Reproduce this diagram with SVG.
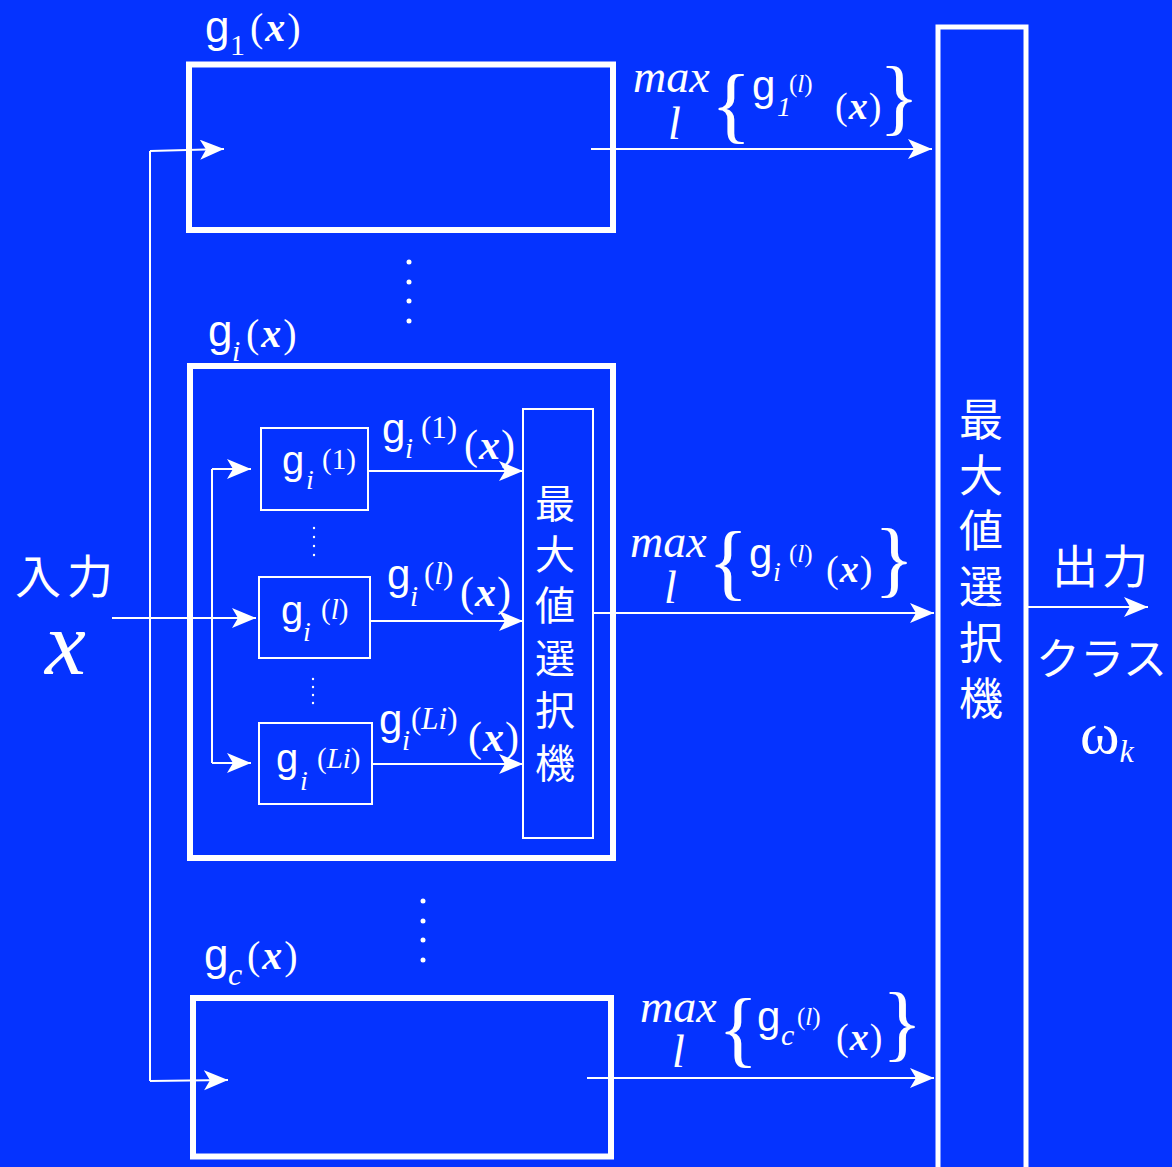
<svg xmlns="http://www.w3.org/2000/svg" width="1172" height="1167" viewBox="0 0 1172 1167">
<defs>
<marker id="ah" markerUnits="userSpaceOnUse" markerWidth="26" markerHeight="22" refX="24" refY="10" orient="auto">
<path d="M0,0 L24,10 L0,20 L6,10 Z" fill="#fff"/>
</marker>
<style>
.bg{fill:#0533FF}
.big{fill:none;stroke:#fff;stroke-width:6}
.sel{fill:none;stroke:#fff;stroke-width:5}
.sm{fill:none;stroke:#fff;stroke-width:2}
.c{fill:none;stroke:#fff;stroke-width:2}
.a{marker-end:url(#ah)}
text{fill:#fff}
.g{font-family:"Liberation Sans",Arial,sans-serif}
.s{font-family:"Liberation Serif","Times New Roman",serif}
.si{font-family:"Liberation Serif","Times New Roman",serif;font-style:italic}
.bx{font-family:"Liberation Serif","Times New Roman",serif;font-style:italic;font-weight:bold}
.j{font-family:"Noto Sans CJK JP","Noto Sans CJK SC",sans-serif}
.d{fill:#fff}
</style>
</defs>
<rect class="bg" x="0" y="0" width="1172" height="1167"/>

<g id="connectors">
<path class="c" d="M150,151 L150,1081"/>
<path class="c a" d="M150,151 L224,149"/>
<path class="c a" d="M150,1081 L228,1080"/>
<path class="c a" d="M591,149 L932,149"/>
<path class="c a" d="M593,613 L934,613"/>
<path class="c a" d="M587,1078 L934,1078"/>
<path class="c a" d="M112,618 L256,618"/>
<path class="c" d="M212,469 L212,763"/>
<path class="c a" d="M212,469 L251,469"/>
<path class="c a" d="M212,763 L251,763"/>
<path class="c a" d="M368,471 L523,471"/>
<path class="c a" d="M370,621 L523,621"/>
<path class="c a" d="M372,764 L523,764"/>
<path class="c a" d="M1026,607 L1148,607"/>
</g>

<g id="input">
<text class="j" x="15" y="593" font-size="46" letter-spacing="6">入力</text>
<text class="si" x="45" y="674" font-size="92">x</text>
</g>

<g id="g1">
<rect class="big" x="189" y="64.5" width="424" height="165.5"/>
<text x="205" y="42"><tspan class="g" font-size="44">g</tspan><tspan class="s" font-size="30" x="230" y="55">1</tspan><tspan class="s" font-size="40" x="250" y="41" letter-spacing="2">(</tspan><tspan class="bx" font-size="40" letter-spacing="2">x</tspan><tspan class="s" font-size="40">)</tspan></text>
</g>

<g id="dots-top">
<circle class="d" cx="409" cy="262" r="2.5"/>
<circle class="d" cx="409" cy="282" r="2.5"/>
<circle class="d" cx="409" cy="301" r="2.5"/>
<circle class="d" cx="409" cy="321" r="2.5"/>
</g>

<g id="gi">
<rect class="big" x="190" y="366" width="423" height="492"/>
<text x="208" y="346"><tspan class="g" font-size="44">g</tspan><tspan class="si" font-size="30" x="232" y="361">i</tspan><tspan class="s" font-size="40" x="246" y="347" letter-spacing="2">(</tspan><tspan class="bx" font-size="40" letter-spacing="2">x</tspan><tspan class="s" font-size="40">)</tspan></text>
</g>

<g id="gi1">
<rect class="sm" x="261" y="428" width="107" height="82"/>
<text x="282" y="474"><tspan class="g" font-size="40">g</tspan><tspan class="si" font-size="28" x="306" y="489">i</tspan><tspan class="s" font-size="29" x="322" y="469">(1)</tspan></text>
</g>
<g id="gil">
<rect class="sm" x="259" y="577" width="111" height="81"/>
<text x="281" y="624"><tspan class="g" font-size="40">g</tspan><tspan class="si" font-size="28" x="303" y="641">i</tspan><tspan class="s" font-size="29" x="321" y="619">(<tspan class="si">l</tspan>)</tspan></text>
</g>
<g id="giLi">
<rect class="sm" x="259" y="723" width="113" height="81"/>
<text x="276" y="772"><tspan class="g" font-size="40">g</tspan><tspan class="si" font-size="28" x="300" y="790">i</tspan><tspan class="s" font-size="29" x="317" y="768">(<tspan class="si">Li</tspan>)</tspan></text>
</g>

<g id="inner-dots">
<circle class="d" cx="314" cy="528" r="1.2"/>
<circle class="d" cx="314" cy="537" r="1.2"/>
<circle class="d" cx="314" cy="546" r="1.2"/>
<circle class="d" cx="314" cy="555" r="1.2"/>
<circle class="d" cx="313" cy="679" r="1.2"/>
<circle class="d" cx="313" cy="687" r="1.2"/>
<circle class="d" cx="313" cy="695" r="1.2"/>
<circle class="d" cx="313" cy="703" r="1.2"/>
</g>

<g id="inner-labels">
<text x="382" y="443"><tspan class="g" font-size="42">g</tspan><tspan class="si" font-size="29" x="405" y="458">i</tspan><tspan class="s" font-size="31" x="421" y="438">(1)</tspan><tspan class="s" font-size="42" x="464" y="459" letter-spacing="1">(</tspan><tspan class="bx" font-size="42" letter-spacing="1">x</tspan><tspan class="s" font-size="42">)</tspan></text>
<text x="387" y="589"><tspan class="g" font-size="42">g</tspan><tspan class="si" font-size="29" x="410" y="606">i</tspan><tspan class="s" font-size="31" x="424" y="584">(<tspan class="si">l</tspan>)</tspan><tspan class="s" font-size="42" x="460" y="606" letter-spacing="1">(</tspan><tspan class="bx" font-size="42" letter-spacing="1">x</tspan><tspan class="s" font-size="42">)</tspan></text>
<text x="379" y="734"><tspan class="g" font-size="42">g</tspan><tspan class="si" font-size="29" x="402" y="750">i</tspan><tspan class="s" font-size="31" x="411" y="729">(<tspan class="si">Li</tspan>)</tspan><tspan class="s" font-size="42" x="468" y="751" letter-spacing="1">(</tspan><tspan class="bx" font-size="42" letter-spacing="1">x</tspan><tspan class="s" font-size="42">)</tspan></text>
</g>

<g id="inner-selector">
<rect class="sm" x="523" y="409" width="70" height="429"/>
<text class="j" font-size="40" text-anchor="middle"><tspan x="555" y="518">最</tspan><tspan x="555" y="569">大</tspan><tspan x="555" y="620">値</tspan><tspan x="555" y="673">選</tspan><tspan x="555" y="725">択</tspan><tspan x="555" y="778">機</tspan></text>
</g>

<g id="dots-bottom">
<circle class="d" cx="423" cy="901" r="2.5"/>
<circle class="d" cx="423" cy="921" r="2.5"/>
<circle class="d" cx="423" cy="940" r="2.5"/>
<circle class="d" cx="423" cy="960" r="2.5"/>
</g>

<g id="gc">
<rect class="big" x="193" y="998" width="418" height="158.5"/>
<text x="204" y="970"><tspan class="g" font-size="44">g</tspan><tspan class="si" font-size="32" x="228" y="985">c</tspan><tspan class="s" font-size="40" x="247" y="969" letter-spacing="2">(</tspan><tspan class="bx" font-size="40" letter-spacing="2">x</tspan><tspan class="s" font-size="40">)</tspan></text>
</g>

<g id="max-labels">
<text class="si" x="633" y="92" font-size="46">max</text>
<text class="si" x="668" y="139" font-size="46">l</text>
<text class="s" x="711" y="133" font-size="84">{</text>
<text x="752" y="100"><tspan class="g" font-size="42">g</tspan><tspan class="si" font-size="28" x="777" y="116">1</tspan><tspan class="s" font-size="25" x="789" y="92">(<tspan class="si">l</tspan>)</tspan><tspan class="s" font-size="38" x="835" y="119" letter-spacing="1">(</tspan><tspan class="bx" font-size="38" letter-spacing="1">x</tspan><tspan class="s" font-size="38">)</tspan></text>
<text class="s" x="879" y="125" font-size="84">}</text>

<text class="si" x="630" y="557" font-size="46">max</text>
<text class="si" x="664" y="603" font-size="46">l</text>
<text class="s" x="708" y="590" font-size="84">{</text>
<text x="749" y="568"><tspan class="g" font-size="42">g</tspan><tspan class="si" font-size="28" x="773" y="581">i</tspan><tspan class="s" font-size="25" x="789" y="562">(<tspan class="si">l</tspan>)</tspan><tspan class="s" font-size="38" x="826" y="582" letter-spacing="1">(</tspan><tspan class="bx" font-size="38" letter-spacing="1">x</tspan><tspan class="s" font-size="38">)</tspan></text>
<text class="s" x="874" y="587" font-size="84">}</text>

<text class="si" x="640" y="1022" font-size="46">max</text>
<text class="si" x="672" y="1067" font-size="46">l</text>
<text class="s" x="718" y="1057" font-size="84">{</text>
<text x="757" y="1031"><tspan class="g" font-size="42">g</tspan><tspan class="si" font-size="30" x="781" y="1045">c</tspan><tspan class="s" font-size="25" x="797" y="1025">(<tspan class="si">l</tspan>)</tspan><tspan class="s" font-size="38" x="836" y="1050" letter-spacing="1">(</tspan><tspan class="bx" font-size="38" letter-spacing="1">x</tspan><tspan class="s" font-size="38">)</tspan></text>
<text class="s" x="882" y="1051" font-size="84">}</text>
</g>

<g id="selector">
<rect class="sel" x="938" y="27" width="88" height="1150"/>
<text class="j" font-size="44" text-anchor="middle"><tspan x="981" y="436">最</tspan><tspan x="981" y="492">大</tspan><tspan x="981" y="547">値</tspan><tspan x="981" y="603">選</tspan><tspan x="981" y="659">択</tspan><tspan x="981" y="715">機</tspan></text>
</g>

<g id="output">
<text class="j" x="1052" y="583" font-size="46" letter-spacing="4">出力</text>
<text class="j" x="1036" y="675" font-size="44">クラス</text>
<text x="1080" y="753"><tspan class="s" font-size="60">ω</tspan><tspan class="si" font-size="32" y="762">k</tspan></text>
</g>
</svg>
